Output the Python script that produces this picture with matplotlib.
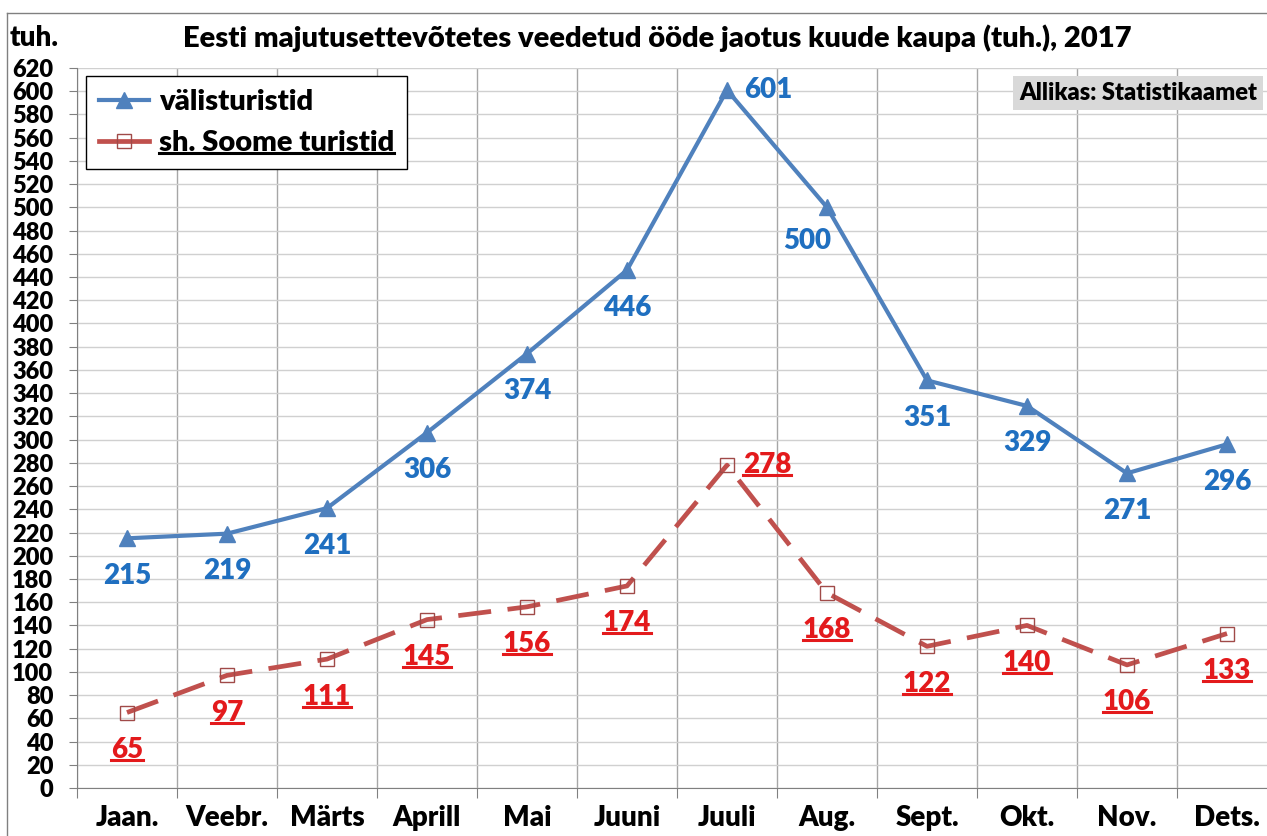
import numpy as np
import matplotlib
matplotlib.use('Agg')
import matplotlib.pyplot as plt
from matplotlib.lines import Line2D

plt.rcParams['font.family'] = ['Lato', 'DejaVu Sans']
plt.rcParams['font.weight'] = 'heavy'

months = ['Jaan.', 'Veebr.', 'Märts', 'Aprill', 'Mai', 'Juuni',
          'Juuli', 'Aug.', 'Sept.', 'Okt.', 'Nov.', 'Dets.']
foreign = [215, 219, 241, 306, 374, 446, 601, 500, 351, 329, 271, 296]
finnish = [65, 97, 111, 145, 156, 174, 278, 168, 122, 140, 106, 133]

blue = '#4F81BD'
blue_txt = '#1F6FC0'
red = '#C0504D'
red_txt = '#E31A1C'
FW = 'heavy'

W, H = 1267, 836
fig = plt.figure(figsize=(W / 100, H / 100), dpi=100)
ax = fig.add_axes([77 / W, 48 / H, 1200 / W, 720 / H])

x = np.arange(len(months))

ax.plot(x, foreign, color=blue, lw=3, marker='^', ms=11,
        mfc=blue, mec=blue, label='välisturistid', zorder=4)
ax.plot(x, finnish, color=red, lw=3.4, dashes=(7, 3.5), marker='s', ms=10,
        mfc='none', mec='#A04A48', mew=1, label='sh. Soome turistid', zorder=3)

ax.set_xlim(-0.5, 11.5)
ax.set_ylim(0, 620)
ax.set_yticks(np.arange(0, 621, 20))
ax.set_xticks(np.arange(-0.5, 12, 1))
ax.set_xticklabels([])
ax.set_xticks(x, minor=True)
ax.set_xticklabels(months, minor=True, fontsize=20, fontweight=FW)
ax.tick_params(axis='x', which='minor', length=0, pad=12)
ax.tick_params(axis='x', which='major', length=7, color='#808080', direction='out')
ax.tick_params(axis='y', length=6, color='#808080', pad=11, labelsize=17)
for t in ax.get_yticklabels():
    t.set_fontweight(FW)

ax.grid(axis='y', color='#D0D0D0', lw=1)
ax.grid(axis='x', which='major', color='#A6A6A6', lw=1)
ax.set_axisbelow(True)
for s in ['top', 'right']:
    ax.spines[s].set_visible(False)
ax.spines['left'].set_color('#808080')
ax.spines['bottom'].set_color('#808080')

for i, v in enumerate(foreign):
    off = (0, -27)
    if i == 6:
        off = (30, 0)
    elif i == 7:
        off = (-14, -24)
    ax.annotate(str(v), (i, v), xytext=off, textcoords='offset points',
                ha='center', va='center', fontsize=20,
                fontweight=FW, color=blue_txt, zorder=6)
red_labels = []
for i, v in enumerate(finnish):
    off = (29, 0) if i == 6 else (0, -27)
    red_labels.append(ax.annotate(str(v), (i, v), xytext=off, textcoords='offset points',
                                  ha='center', va='center', fontsize=20,
                                  fontweight=FW, color=red_txt, zorder=6))

leg = ax.legend(loc='upper left', bbox_to_anchor=(86 / W, 1 - 76 / H),
                bbox_transform=fig.transFigure, fontsize=21, frameon=True,
                fancybox=False, edgecolor='black', framealpha=1,
                handlelength=1.7, handletextpad=0.35, borderpad=0.45,
                labelspacing=0.5, borderaxespad=0)
leg.get_frame().set_linewidth(1)
for t in leg.get_texts():
    t.set_fontweight(FW)
leg.legend_handles[1].set_linestyle('-')

fig.text(657 / W, 1 - 38 / H,
         'Eesti majutusettevõtetes veedetud ööde jaotus kuude kaupa (tuh.), 2017',
         ha='center', va='center', fontsize=21, fontweight=FW)
fig.text(10 / W, 1 - 38 / H, 'tuh.', ha='left', va='center', fontsize=20,
         fontweight=FW)
fig.text(1257 / W, 1 - 93 / H, 'Allikas: Statistikaamet', ha='right', va='center',
         fontsize=17, fontweight=FW,
         bbox=dict(facecolor='#D9D9D9', edgecolor='none', pad=4))

# outer chart-area border
fig.add_artist(Line2D([7 / W, 7 / W], [0, 1 - 13 / H], color='#808080', lw=1,
                      transform=fig.transFigure))
fig.add_artist(Line2D([7 / W, 1], [1 - 13 / H, 1 - 13 / H], color='#808080', lw=1,
                      transform=fig.transFigure))

# underlines
fig.canvas.draw()
r = fig.canvas.get_renderer()
under = red_labels + [leg.get_texts()[1]]
for t in under:
    bb = t.get_window_extent(r)
    col = t.get_color()
    yy = bb.y0 + 3
    fig.add_artist(Line2D([bb.x0 / W, bb.x1 / W], [yy / H, yy / H], color=col,
                          lw=2.2, transform=fig.transFigure, zorder=7))

fig.savefig('out.png', dpi=100)
